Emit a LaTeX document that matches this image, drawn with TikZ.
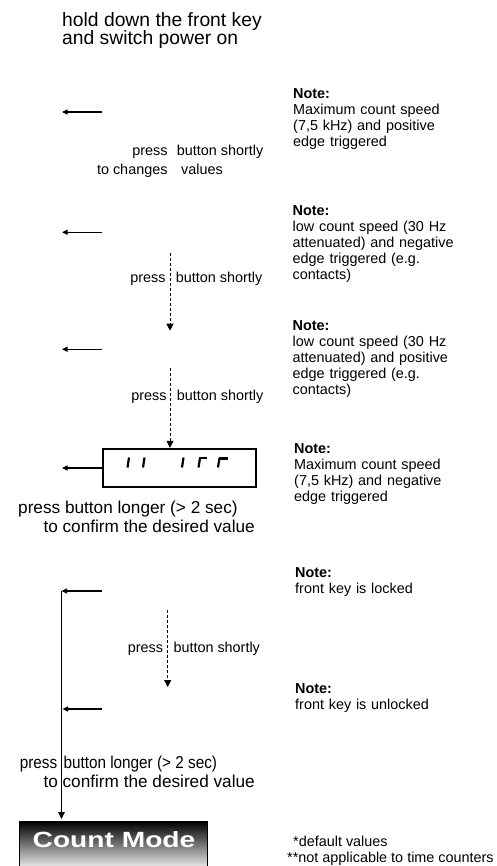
\documentclass[tikz,border=0pt]{standalone}
\usepackage{fontspec}
\setmainfont{Liberation Sans}
\usetikzlibrary{arrows.meta}
\begin{document}
\begin{tikzpicture}[x=1pt,y=-1pt,
  lbl/.style={inner sep=0pt, font=\fontsize{14.4}{16}\selectfont},
  big/.style={inner sep=0pt, anchor=base west, font=\fontsize{17.2}{20}\selectfont},
  ttl/.style={inner sep=0pt, anchor=base west, font=\fontsize{19.3}{20}\selectfont},
  note/.style={inner sep=0pt, anchor=base west, text width=200pt, align=left, font=\fontsize{14.4}{16}\selectfont},
  larr/.style={line width=1.2pt, -{Triangle[length=5.5pt,width=5pt]}},
  varr/.style={line width=1.2pt, -{Triangle[length=7pt,width=6.5pt]}, shorten >=2pt},
  darr/.style={line width=0.8pt, dash pattern=on 3pt off 2pt, -{Triangle[length=7pt,width=7pt]}},
  seg/.style={line width=2.2pt},
  dispbox/.style={draw, line width=1.2pt, minimum width=153pt, minimum height=38pt, inner sep=0pt},
  cmstyle/.style={draw=black, line width=1pt, top color=black, bottom color=white, minimum width=188pt, minimum height=50pt, inner sep=0pt, anchor=north west},
]
\useasboundingbox (0,0) rectangle (497,866);

% title
\node[ttl] (t1) at (62,26.7) {hold down the front key};
\node[ttl] (t2) at (62,44.3) {and switch power on};

% notes
\node[note] (n1) at (293,98.3) {\textbf{Note:}\\Maximum count speed\\(7,5 kHz) and positive\\edge triggered};
\node[note] (n2) at (292.5,216) {\textbf{Note:}\\low count speed (30 Hz\\attenuated) and negative\\edge triggered (e.g.\\contacts)};
\node[note] (n3) at (292.5,330) {\textbf{Note:}\\low count speed (30 Hz\\attenuated) and positive\\edge triggered (e.g.\\contacts)};
\node[note] (n4) at (294,453.3) {\textbf{Note:}\\Maximum count speed\\(7,5 kHz) and negative\\edge triggered};
\node[note] (n5) at (295,577.7) {\textbf{Note:}\\front key is locked};
\node[note] (n6) at (295,693) {\textbf{Note:}\\front key is unlocked};
\node[lbl, anchor=base west] (f1) at (293,846.7) {*default values};
\node[lbl, anchor=base west] (f2) at (287,862.7) {**not applicable to time counters};

% left arrows (coordinates)
\coordinate (a1s) at (102,112);   \coordinate (a1e) at (62,112);
\coordinate (a2s) at (102,232.3); \coordinate (a2e) at (62,232.3);
\coordinate (a3s) at (102,349.3); \coordinate (a3e) at (62,349.3);
\coordinate (a4e) at (62,468);
\coordinate (a5s) at (102,591);   \coordinate (corner) at (61.5,591);
\coordinate (a6s) at (102,709);   \coordinate (a6e) at (62.5,709);
\draw[larr] (a1s) -- (a1e);
\draw[larr] (a2s) -- (a2e);
\draw[larr] (a3s) -- (a3e);

% label 1
\node[lbl, anchor=base east] (p1) at (167.7,155.5) {press};
\node[lbl, anchor=base west] (b1) at (176.7,155.5) {button shortly};
\node[lbl, anchor=base east] (p1b) at (167.7,175) {to changes};
\node[lbl, anchor=base west] (b1b) at (181,175) {values};

% dashed arrow 1
\coordinate (d1s) at (170,252.7); \coordinate (d1e) at (170,330.7);
\draw[darr] (d1s) -- (d1e);
\node[lbl, anchor=base east] (p2) at (165.7,282) {press};
\node[lbl, anchor=base west] (b2) at (175.7,282) {button shortly};

% dashed arrow 2
\node[dispbox] (disp) at (179.5,468) {};
\coordinate (d2s) at (170,368.3);
\draw[darr, shorten >=0.6pt] (d2s) -- (d2s |- disp.north);
\node[lbl, anchor=base east] (p3) at (166.7,400) {press};
\node[lbl, anchor=base west] (b3) at (176.7,400) {button shortly};

% display glyphs
\draw[seg] (129,457.5) -- (127.5,467.5);
\draw[seg] (144.5,457.5) -- (143,467.5);
\draw[seg] (183.5,457.5) -- (182,467.5);
\draw[seg] (200,458) -- (198.5,467.5);
\draw[line width=1.5pt] (199.3,458) -- (207,458);
\draw[seg] (219.5,458) -- (218,467.5);
\draw[line width=2.8pt] (218.6,458.6) -- (228,458.6);

\draw[larr] (disp.west) -- (a4e);

\node[big] (l1) at (18,513.5) {press button longer (> 2 sec)};
\node[big] (l2) at (43.3,532.5) {to confirm the desired value};

% locked / unlocked
\draw[larr] (a5s) -- (corner);
\coordinate (d3s) at (167.7,610); \coordinate (d3e) at (167.7,687);
\draw[darr] (d3s) -- (d3e);
\node[lbl, anchor=base east] (p4) at (163.3,652) {press};
\node[lbl, anchor=base west] (b4) at (173.3,652) {button shortly};
\draw[larr] (a6s) -- (a6e);

\node[big, anchor=base east] (l3a) at (57.5,768) {\scalebox{0.89}[1]{press}};
\node[big] (l3b) at (63.3,768) {\scalebox{0.89}[1]{button longer (> 2 sec)}};
\node[big] (l4) at (43.3,787) {to confirm the desired value};

% count mode box
\node[cmstyle] (cmbox) at (19,821) {};
\node[inner sep=0pt, anchor=base, text=white, font=\fontsize{22}{22}\selectfont\bfseries] (cmtext) at (114,847) {\scalebox{1.28}[1]{Count Mode}};
\draw[varr] (corner) -- (corner |- cmbox.north);
\end{tikzpicture}
\end{document}
